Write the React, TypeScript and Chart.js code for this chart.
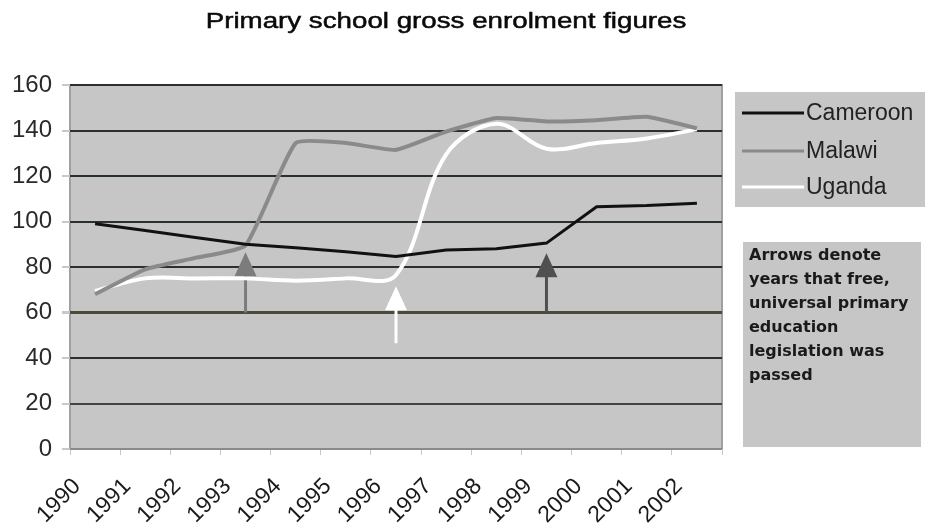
import React, { useEffect, useRef } from 'react';
import { Chart, registerables } from 'chart.js';

Chart.register(...registerables);

const years = ['1990', '1991', '1992', '1993', '1994', '1995', '1996', '1997', '1998', '1999', '2000', '2001', '2002'];
const cameroon = [99, 96, 93, 90, 88.5, 86.7, 84.6, 87.5, 88, 90.5, 106.5, 107, 108];
const malawi = [68, 79, 84, 89.5, 134.5, 134.5, 131.5, 139.5, 145.5, 144, 144.5, 146, 141];
const uganda = [69.5, 75, 75, 75, 74, 75, 76.5, 129.5, 143, 132, 134.5, 136.5, 140.5];

const seriesNames = ['Cameroon', 'Malawi', 'Uganda'];
const seriesColors = ['#111111', '#8a8a8a', '#ffffff'];

const arrowYears = ['1993', '1996', '1999'];
const arrowBase = [60, 46.5, 60];
const arrowTip = [86.5, 71.5, 86];
const arrowColors = ['#7c7c7c', '#ffffff', '#505050'];

const titleText = 'Primary school gross enrolment figures';
const noteLines = ['Arrows denote', 'years that free,', 'universal primary', 'education', 'legislation was', 'passed'];

const PLOT_BG = '#c6c6c6';
const FONT = "'Liberation Sans', Arial, sans-serif";

const decorPlugin = {
  id: 'decor',
  beforeDraw(chart: any) {
    const { ctx, chartArea: a } = chart;
    ctx.save();
    ctx.fillStyle = '#ffffff';
    ctx.fillRect(0, 0, chart.width, chart.height);
    ctx.fillStyle = PLOT_BG;
    ctx.fillRect(a.left, a.top, a.right - a.left, a.bottom - a.top);
    ctx.strokeStyle = '#a0a0a0';
    ctx.lineWidth = 2;
    ctx.strokeRect(a.left, a.top, a.right - a.left, a.bottom - a.top);
    ctx.restore();
  },
  beforeDatasetsDraw(chart: any) {
    const { ctx } = chart;
    const xs = chart.scales.x;
    const ys = chart.scales.y;
    ctx.save();
    arrowYears.forEach((yr, i) => {
      const x = xs.getPixelForValue(years.indexOf(yr));
      const yb = ys.getPixelForValue(arrowBase[i]);
      const yt = ys.getPixelForValue(arrowTip[i]);
      const headLen = 24;
      const headW = 11;
      ctx.strokeStyle = arrowColors[i];
      ctx.fillStyle = arrowColors[i];
      ctx.lineWidth = 3;
      ctx.beginPath();
      ctx.moveTo(x, yb);
      ctx.lineTo(x, yt + headLen - 2);
      ctx.stroke();
      ctx.beginPath();
      ctx.moveTo(x, yt);
      ctx.lineTo(x - headW, yt + headLen);
      ctx.lineTo(x + headW, yt + headLen);
      ctx.closePath();
      ctx.fill();
    });
    ctx.restore();
  },
  afterDraw(chart: any) {
    const { ctx } = chart;
    ctx.save();
    // title (horizontally stretched like the original)
    ctx.translate(446, 22);
    ctx.scale(1.26, 1);
    ctx.font = `22px ${FONT}`;
    ctx.fillStyle = '#0a0a0a';
    ctx.strokeStyle = '#0a0a0a';
    ctx.lineWidth = 0.5;
    ctx.textAlign = 'center';
    ctx.textBaseline = 'middle';
    ctx.fillText(titleText, 0, 0);
    ctx.strokeText(titleText, 0, 0);
    ctx.restore();

    // legend box
    ctx.save();
    ctx.fillStyle = PLOT_BG;
    ctx.fillRect(735, 92, 200, 115);
    const ly = [113, 151, 187];
    seriesNames.forEach((n, i) => {
      ctx.strokeStyle = seriesColors[i];
      ctx.lineWidth = 3;
      ctx.beginPath();
      ctx.moveTo(742, ly[i]);
      ctx.lineTo(804, ly[i]);
      ctx.stroke();
      ctx.font = `23px ${FONT}`;
      ctx.fillStyle = '#222222';
      ctx.textAlign = 'left';
      ctx.textBaseline = 'middle';
      ctx.fillText(n, 806, ly[i] + 1);
    });

    // note box
    ctx.fillStyle = PLOT_BG;
    ctx.fillRect(743, 242, 178, 205);
    ctx.font = `bold 16px 'DejaVu Sans', sans-serif`;
    ctx.fillStyle = '#1a1a1a';
    ctx.textAlign = 'left';
    ctx.textBaseline = 'middle';
    noteLines.forEach((t, i) => {
      ctx.fillText(t, 749, 256 + i * 24);
    });
    ctx.restore();
  },
};

export default function App() {
  const ref = useRef<HTMLCanvasElement | null>(null);
  useEffect(() => {
    if (!ref.current) return;
    const chart = new Chart(ref.current, {
      type: 'line',
      data: {
        labels: years,
        datasets: [
          { label: seriesNames[0], data: cameroon, borderColor: seriesColors[0], borderWidth: 3, pointRadius: 0, tension: 0 },
          { label: seriesNames[1], data: malawi, borderColor: seriesColors[1], borderWidth: 4, pointRadius: 0, tension: 0.15 },
          { label: seriesNames[2], data: uganda, borderColor: seriesColors[2], borderWidth: 4, pointRadius: 0, tension: 0.35 },
        ],
      },
      options: {
        responsive: false,
        animation: false,
        layout: { padding: { top: 85, right: 203, left: 0, bottom: 0 } },
        plugins: { legend: { display: false }, title: { display: false }, tooltip: { enabled: false } },
        scales: {
          x: {
            offset: true,
            grid: { offset: true, drawOnChartArea: false, tickLength: 6, color: '#c8c8c8' },
            border: { display: false },
            ticks: {
              minRotation: 45,
              maxRotation: 45,
              autoSkip: false,
              labelOffset: -18,
              padding: 18,
              color: '#1a1a1a',
              font: { family: FONT, size: 23 },
            },
            afterFit: (s: any) => { s.height = 82; },
          },
          y: {
            min: 0,
            max: 160,
            ticks: { stepSize: 20, color: '#2a2a2a', font: { family: FONT, size: 24 }, padding: 10 },
            grid: {
              lineWidth: (c: any) => (c.tick && c.tick.value === 60 ? 3 : 2),
              tickLength: 8,
              tickColor: '#c8c8c8',
              color: (c: any) => {
                const v = c.tick ? c.tick.value : -1;
                if (v === 60) return '#4e4a34';
                if (v === 0) return '#8a8a8a';
                if (v === 20) return '#444444';
                return '#2a302a';
              },
            },
            border: { display: false },
            afterFit: (s: any) => { s.width = 70; },
          },
        },
      },
      plugins: [decorPlugin],
    });
    return () => chart.destroy();
  }, []);
  return (
    <div style={{ position: 'absolute', left: 0, top: 0, width: 925, height: 531 }}>
      <canvas ref={ref} width={925} height={531} />
    </div>
  );
}
